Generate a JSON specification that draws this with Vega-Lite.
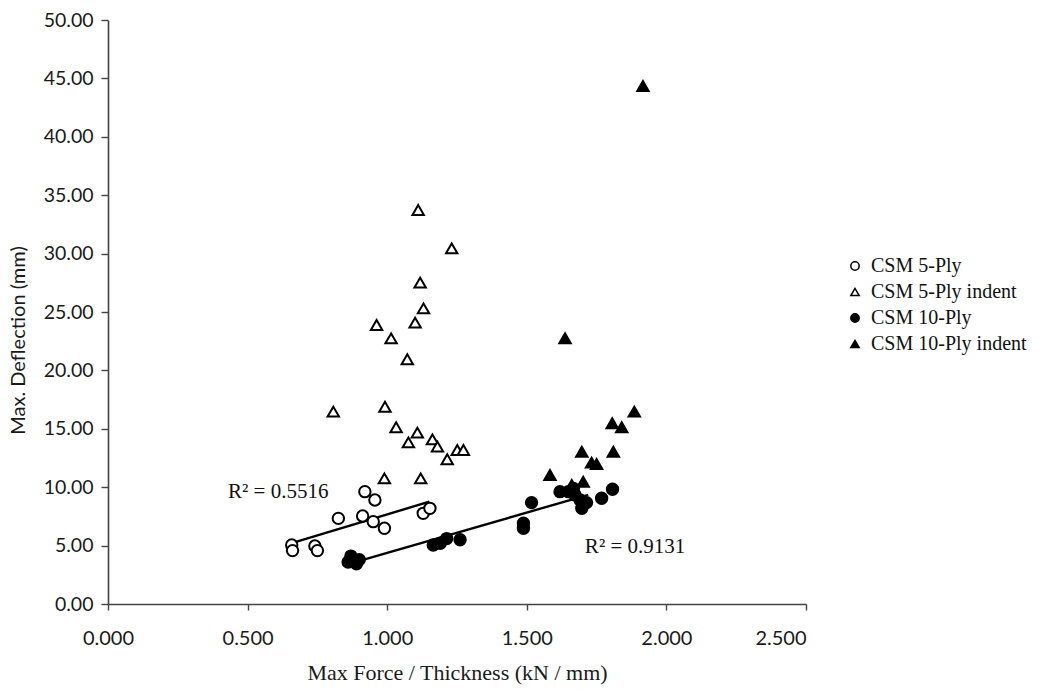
{
  "$schema": "https://vega.github.io/schema/vega-lite/v6.json",
  "width": 698,
  "height": 584,
  "autosize": "none",
  "padding": {"left": 108, "top": 20, "right": 240, "bottom": 85},
  "background": "white",
  "config": {"view": {"stroke": null}},
  "datasets": {
    "points": [
      {"series": "CSM 5-Ply", "force": 0.920, "deflection": 9.62},
      {"series": "CSM 5-Ply", "force": 0.956, "deflection": 8.90},
      {"series": "CSM 5-Ply", "force": 0.825, "deflection": 7.33},
      {"series": "CSM 5-Ply", "force": 0.912, "deflection": 7.53},
      {"series": "CSM 5-Ply", "force": 0.950, "deflection": 7.05},
      {"series": "CSM 5-Ply", "force": 0.990, "deflection": 6.48},
      {"series": "CSM 5-Ply", "force": 1.129, "deflection": 7.76},
      {"series": "CSM 5-Ply", "force": 1.153, "deflection": 8.19},
      {"series": "CSM 5-Ply", "force": 0.658, "deflection": 5.05},
      {"series": "CSM 5-Ply", "force": 0.661, "deflection": 4.57},
      {"series": "CSM 5-Ply", "force": 0.741, "deflection": 4.97},
      {"series": "CSM 5-Ply", "force": 0.750, "deflection": 4.57},
      {"series": "CSM 5-Ply indent", "force": 1.111, "deflection": 33.73},
      {"series": "CSM 5-Ply indent", "force": 1.231, "deflection": 30.45},
      {"series": "CSM 5-Ply indent", "force": 1.118, "deflection": 27.51},
      {"series": "CSM 5-Ply indent", "force": 1.130, "deflection": 25.31},
      {"series": "CSM 5-Ply indent", "force": 0.962, "deflection": 23.89},
      {"series": "CSM 5-Ply indent", "force": 1.100, "deflection": 24.09},
      {"series": "CSM 5-Ply indent", "force": 1.014, "deflection": 22.74},
      {"series": "CSM 5-Ply indent", "force": 1.072, "deflection": 20.95},
      {"series": "CSM 5-Ply indent", "force": 0.807, "deflection": 16.47},
      {"series": "CSM 5-Ply indent", "force": 0.992, "deflection": 16.89},
      {"series": "CSM 5-Ply indent", "force": 1.032, "deflection": 15.13},
      {"series": "CSM 5-Ply indent", "force": 1.108, "deflection": 14.67},
      {"series": "CSM 5-Ply indent", "force": 1.076, "deflection": 13.84},
      {"series": "CSM 5-Ply indent", "force": 1.162, "deflection": 14.10},
      {"series": "CSM 5-Ply indent", "force": 1.180, "deflection": 13.47},
      {"series": "CSM 5-Ply indent", "force": 1.215, "deflection": 12.39},
      {"series": "CSM 5-Ply indent", "force": 1.251, "deflection": 13.18},
      {"series": "CSM 5-Ply indent", "force": 1.273, "deflection": 13.18},
      {"series": "CSM 5-Ply indent", "force": 0.990, "deflection": 10.76},
      {"series": "CSM 5-Ply indent", "force": 1.120, "deflection": 10.76},
      {"series": "CSM 10-Ply", "force": 0.86, "deflection": 3.6},
      {"series": "CSM 10-Ply", "force": 0.87, "deflection": 4.1},
      {"series": "CSM 10-Ply", "force": 0.88, "deflection": 3.7},
      {"series": "CSM 10-Ply", "force": 0.90, "deflection": 3.8},
      {"series": "CSM 10-Ply", "force": 0.89, "deflection": 3.45},
      {"series": "CSM 10-Ply", "force": 1.165, "deflection": 5.05},
      {"series": "CSM 10-Ply", "force": 1.19, "deflection": 5.2},
      {"series": "CSM 10-Ply", "force": 1.213, "deflection": 5.6},
      {"series": "CSM 10-Ply", "force": 1.261, "deflection": 5.5},
      {"series": "CSM 10-Ply", "force": 1.517, "deflection": 8.68},
      {"series": "CSM 10-Ply", "force": 1.488, "deflection": 6.91},
      {"series": "CSM 10-Ply", "force": 1.488, "deflection": 6.48},
      {"series": "CSM 10-Ply", "force": 1.619, "deflection": 9.62},
      {"series": "CSM 10-Ply", "force": 1.649, "deflection": 9.62},
      {"series": "CSM 10-Ply", "force": 1.673, "deflection": 9.33},
      {"series": "CSM 10-Ply", "force": 1.691, "deflection": 8.90},
      {"series": "CSM 10-Ply", "force": 1.697, "deflection": 8.19},
      {"series": "CSM 10-Ply", "force": 1.714, "deflection": 8.68},
      {"series": "CSM 10-Ply", "force": 1.667, "deflection": 9.90},
      {"series": "CSM 10-Ply", "force": 1.768, "deflection": 9.05},
      {"series": "CSM 10-Ply", "force": 1.807, "deflection": 9.82},
      {"series": "CSM 10-Ply indent", "force": 1.916, "deflection": 44.35},
      {"series": "CSM 10-Ply indent", "force": 1.637, "deflection": 22.75},
      {"series": "CSM 10-Ply indent", "force": 1.885, "deflection": 16.47},
      {"series": "CSM 10-Ply indent", "force": 1.806, "deflection": 15.47},
      {"series": "CSM 10-Ply indent", "force": 1.840, "deflection": 15.13},
      {"series": "CSM 10-Ply indent", "force": 1.697, "deflection": 13.04},
      {"series": "CSM 10-Ply indent", "force": 1.810, "deflection": 13.04},
      {"series": "CSM 10-Ply indent", "force": 1.732, "deflection": 12.10},
      {"series": "CSM 10-Ply indent", "force": 1.750, "deflection": 11.99},
      {"series": "CSM 10-Ply indent", "force": 1.583, "deflection": 11.04},
      {"series": "CSM 10-Ply indent", "force": 1.702, "deflection": 10.47},
      {"series": "CSM 10-Ply indent", "force": 1.661, "deflection": 10.19}
    ],
    "trends": [
      {"fit": "5-Ply", "force": 0.664, "deflection": 5.25},
      {"fit": "5-Ply", "force": 1.151, "deflection": 8.76},
      {"fit": "10-Ply", "force": 0.913, "deflection": 3.77},
      {"fit": "10-Ply", "force": 1.72, "deflection": 9.35}
    ],
    "labels": [
      {"label": "R² = 0.5516", "force": 0.43, "deflection": 9.55},
      {"label": "R² = 0.9131", "force": 1.708, "deflection": 4.85}
    ]
  },
  "layer": [
    {
      "data": {"name": "trends"},
      "mark": {"type": "line", "color": "black", "strokeWidth": 2.4},
      "encoding": {
        "x": {"field": "force", "type": "quantitative"},
        "y": {"field": "deflection", "type": "quantitative"},
        "detail": {"field": "fit"}
      }
    },
    {
      "data": {"name": "points"},
      "mark": {"type": "point", "stroke": "black", "strokeWidth": 2, "opacity": 1, "filled": false},
      "encoding": {
        "x": {
          "field": "force", "type": "quantitative",
          "scale": {"domain": [0, 2.5], "nice": false, "zero": true},
          "axis": {
            "values": [0, 0.5, 1, 1.5, 2, 2.5], "format": ".3f", "grid": false,
            "title": "Max Force / Thickness (kN / mm)",
            "labelFont": "Lato", "labelFontSize": 20, "labelColor": "#1a1a1a",
            "labelFlush": false,
            "labelAlign": {"condition": {"test": "datum.value == 2.5", "value": "right"}, "value": "center"},
            "titleFont": "Liberation Serif", "titleFontSize": 22, "titleFontWeight": "normal", "titleColor": "#1a1a1a",
            "titleY": 68, "titleBaseline": "middle",
            "domainColor": "#444", "domainWidth": 1.6, "tickColor": "#444", "tickSize": 6, "tickWidth": 1.4,
            "labelPadding": 18
          }
        },
        "y": {
          "field": "deflection", "type": "quantitative",
          "scale": {"domain": [0, 50], "nice": false},
          "axis": {
            "values": [0, 5, 10, 15, 20, 25, 30, 35, 40, 45, 50], "format": ".2f", "grid": false,
            "title": "Max. Deflection (mm)",
            "labelFont": "Lato", "labelFontSize": 19.5, "labelColor": "#1a1a1a",
            "titleFont": "Lato", "titleFontSize": 20, "titleFontWeight": "normal", "titleColor": "#1a1a1a",
            "titleX": -90, "titleY": 320, "titleAngle": -90, "titleAlign": "center", "titleBaseline": "middle",
            "domainColor": "#444", "domainWidth": 1.6, "tickColor": "#444", "tickSize": 7, "tickWidth": 1.4,
            "labelPadding": 8
          }
        },
        "shape": {
          "field": "series", "type": "nominal",
          "scale": {"domain": ["CSM 5-Ply", "CSM 5-Ply indent", "CSM 10-Ply", "CSM 10-Ply indent"],
                    "range": ["circle", "triangle-up", "circle", "triangle-up"]},
          "legend": {
            "title": null, "orient": "none", "legendX": 737, "legendY": 236,
            "labelFont": "Liberation Serif", "labelFontSize": 20, "labelColor": "#111",
            "symbolSize": 70, "symbolStrokeWidth": 1.5, "rowPadding": 6, "labelOffset": 6
          }
        },
        "fill": {
          "field": "series", "type": "nominal",
          "scale": {"domain": ["CSM 5-Ply", "CSM 5-Ply indent", "CSM 10-Ply", "CSM 10-Ply indent"],
                    "range": ["white", "white", "black", "black"]},
          "legend": {
            "title": null, "orient": "none", "legendX": 737, "legendY": 236,
            "labelFont": "Liberation Serif", "labelFontSize": 20, "labelColor": "#111",
            "symbolSize": 70, "symbolStrokeWidth": 1.5, "rowPadding": 6, "labelOffset": 6
          }
        },
        "size": {"value": 130}
      }
    },
    {
      "data": {"name": "labels"},
      "mark": {"type": "text", "font": "Liberation Serif", "fontSize": 21, "align": "left", "baseline": "middle", "color": "#111"},
      "encoding": {
        "x": {"field": "force", "type": "quantitative"},
        "y": {"field": "deflection", "type": "quantitative"},
        "text": {"field": "label"}
      }
    }
  ]
}
